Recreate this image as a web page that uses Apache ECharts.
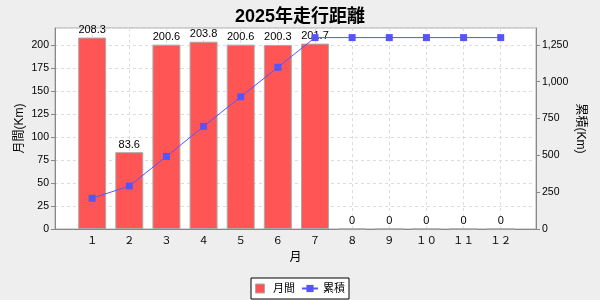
<!DOCTYPE html>
<html><head><meta charset="utf-8">
<script src="https://cdn.jsdelivr.net/npm/echarts@6/dist/echarts.min.js"></script>
<style>html,body{margin:0;padding:0;background:#EEEEEE}#c{width:600px;height:300px}</style>
</head><body><div id="c"></div>
<script>
const title = '2025年走行距離';
const categories = ['１','２','３','４','５','６','７','８','９','１０','１１','１２'];
const monthly = [208.3, 83.6, 200.6, 203.8, 200.6, 200.3, 201.7, 0, 0, 0, 0, 0];
const cumulative = [208.3, 291.9, 492.5, 696.3, 896.9, 1097.2, 1298.9, 1298.9, 1298.9, 1298.9, 1298.9, 1298.9];
const monthlyName = '月間';
const cumulativeName = '累積';
const xName = '月';
const leftName = '月間(Km)';
const rightName = '累積(Km)';

const FONT = "'Liberation Sans','Noto Sans CJK JP',sans-serif";
const chart = echarts.init(document.getElementById('c'), null, {renderer:'canvas'});
chart.setOption({
  backgroundColor: '#EEEEEE',
  animation: false,
  textStyle: {fontFamily: FONT},
  title: {text: title, left: 'center', top: 3,
    textStyle: {fontSize: 18, fontWeight: 'bold', color: '#000', fontFamily: FONT}},
  grid: {left: 55, right: 64, top: 28, bottom: 71, show: true, backgroundColor: '#FFFFFF',
    borderColor: '#AAAAAA', borderWidth: 1, containLabel: false, outerBoundsMode: 'none'},
  legend: {bottom: 1, left: 'center', backgroundColor: '#FFFFFF', borderColor: '#000', borderWidth: 1,
    borderRadius: 0, padding: [5, 4], itemGap: 6, itemWidth: 16, itemHeight: 9,
    textStyle: {fontSize: 11, color: '#000', fontFamily: FONT},
    data: [
      {name: monthlyName, icon: 'path://M0 0H1V1H0Z', itemStyle: {color: '#FF5555', borderColor: '#AAAAAA', borderWidth: 1}},
      {name: cumulativeName}
    ]},
  xAxis: {type: 'value', min: 0, max: 12.95, interval: 1,
    name: xName, nameLocation: 'middle', nameGap: 23, nameMoveOverlap: false,
    nameTextStyle: {fontSize: 12, color: '#000'},
    axisLine: {lineStyle: {color: '#888888'}},
    axisTick: {show: false},
    splitLine: {show: true, lineStyle: {color: '#DDDDDD', type: [3, 3]}},
    axisLabel: {fontSize: 10.5, color: '#000', margin: 7, showMaxLabel: false, showMinLabel: false,
      formatter: v => (v >= 1 && v <= categories.length && Number.isInteger(v)) ? categories[v - 1] : ''}},
  yAxis: [
    {type: 'value', min: 0, max: 218.7, interval: 25, position: 'left',
     name: leftName, nameLocation: 'middle', nameGap: 29, nameRotate: 90, nameMoveOverlap: false,
     nameTextStyle: {fontSize: 12, color: '#000'},
     axisLine: {show: true, lineStyle: {color: '#888888'}},
     axisTick: {show: true, length: 4, lineStyle: {color: '#888888'}},
     splitLine: {show: true, lineStyle: {color: '#DDDDDD', type: [3, 3]}},
     axisLabel: {fontSize: 10.5, color: '#000', margin: 6, showMaxLabel: false,
       formatter: v => (v % 25 === 0) ? String(v) : ''}},
    {type: 'value', min: 0, max: 1364, interval: 250, position: 'right',
     name: rightName, nameLocation: 'middle', nameGap: 38, nameRotate: -90, nameMoveOverlap: false,
     nameTextStyle: {fontSize: 12, color: '#000'},
     axisLine: {show: true, lineStyle: {color: '#888888'}},
     axisTick: {show: true, length: 4, lineStyle: {color: '#888888'}},
     splitLine: {show: false},
     axisLabel: {fontSize: 10.5, color: '#000', margin: 6, showMaxLabel: false,
       formatter: v => (v % 250 === 0) ? v.toLocaleString('en-US') : ''}}
  ],
  series: [
    {name: monthlyName, type: 'bar', yAxisIndex: 0, barWidth: 28,
     data: monthly.map((v, i) => [i + 1, v]),
     itemStyle: {color: '#FF5555', borderColor: '#AAAAAA', borderWidth: 1},
     label: {show: true, position: 'top', distance: 2, fontSize: 11, color: '#000',
       formatter: p => String(p.value[1])}},
    {name: cumulativeName, type: 'line', yAxisIndex: 1, z: 5,
     data: cumulative.map((v, i) => [i + 1, v]),
     symbol: 'rect', symbolSize: 7, showAllSymbol: true,
     lineStyle: {color: '#5555FF', width: 1},
     itemStyle: {color: '#5555FF'}}
  ]
});
</script></body></html>
